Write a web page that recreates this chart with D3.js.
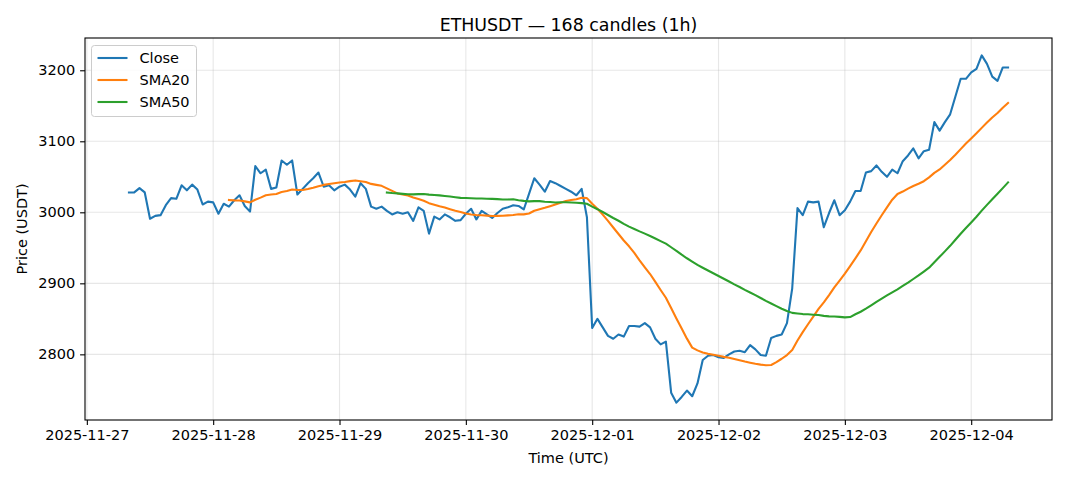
<!DOCTYPE html>
<html>
<head>
<meta charset="utf-8">
<script src="https://cdn.jsdelivr.net/npm/d3@7"></script>
<style>
  body { margin: 0; background: #fff; }
  text { font-family: "DejaVu Sans", sans-serif; }
</style>
</head>
<body>
<div id="chart"></div>
<script>
// hourly candles, first one at this time (UTC)
const startTime = "2025-11-27T08:00:00Z";

const close = [
  3028, 3028, 3034, 3028, 2991, 2995, 2996, 3010, 3020, 3019,
  3038, 3031, 3039, 3032, 3011, 3015, 3014, 2998, 3012, 3008,
  3017, 3024, 3009, 3001, 3065, 3055, 3060, 3033, 3035, 3073,
  3067, 3073, 3025, 3033, 3041, 3048, 3056, 3036, 3038, 3031,
  3036, 3039, 3032, 3022, 3041, 3033, 3008, 3005, 3008, 3002,
  2997, 3000, 2998, 3000, 2988, 3007, 3002, 2970, 2994, 2990,
  2997, 2993, 2988, 2989, 2998, 3005, 2990, 3002, 2997, 2992,
  2999, 3005, 3007, 3010, 3009, 3004, 3026, 3048, 3039, 3029,
  3044, 3041, 3037, 3033, 3029, 3024, 3033, 2993, 2837, 2850,
  2838, 2826, 2822, 2828, 2825, 2840, 2840, 2839, 2844, 2838,
  2822, 2814, 2818, 2746, 2732, 2740, 2749, 2741, 2759, 2792,
  2798, 2799, 2796, 2795, 2800, 2804, 2805, 2803, 2813, 2807,
  2799, 2798, 2823, 2826, 2828, 2844, 2893, 3006, 2996, 3015,
  3014, 3015, 2979, 2999, 3017, 2996, 3003, 3015, 3030, 3030,
  3056, 3058, 3066, 3057, 3050, 3060, 3055, 3072, 3080, 3090,
  3076, 3086, 3088, 3127, 3115, 3127, 3138, 3163, 3188, 3188,
  3197, 3202, 3221, 3209, 3191, 3185, 3204, 3204
];

// SMA20 begins at candle 19
const sma20Start = 19;
const sma20 = [
  3017.4, 3016.8, 3016.6, 3015.4, 3014.0, 3017.7, 3020.7, 3023.9, 3025.1, 3025.8,
  3028.5, 3029.9, 3032.1, 3031.4, 3031.4, 3032.9, 3034.6, 3036.7, 3038.6, 3039.9,
  3041.0, 3042.0, 3042.7, 3043.9, 3044.9, 3043.7, 3042.6, 3040.0, 3038.6, 3037.3,
  3033.7, 3030.2, 3026.6, 3025.2, 3023.6, 3020.9, 3018.9, 3016.2, 3012.9, 3010.7,
  3008.6, 3006.7, 3004.4, 3002.2, 3000.5, 2998.4, 2997.0, 2996.1, 2995.9, 2995.4,
  2994.9, 2995.0, 2995.2, 2995.7, 2996.2, 2997.2, 2997.1, 2998.3, 3002.2, 3004.4,
  3006.4, 3008.7, 3011.1, 3013.6, 3015.8, 3017.3, 3018.3, 3020.4, 3020.0, 3012.0,
  3004.9, 2996.8, 2987.9, 2978.6, 2969.5, 2960.3, 2952.1, 2942.8, 2932.4, 2922.6,
  2913.1, 2902.0, 2890.6, 2879.7, 2865.3, 2850.5, 2836.3, 2822.1, 2809.5, 2805.6,
  2802.7, 2800.7, 2799.3, 2798.0, 2796.4, 2795.1, 2793.3, 2791.6, 2789.8, 2788.2,
  2786.7, 2785.5, 2784.7, 2785.0, 2789.0, 2793.8, 2799.0, 2806.2, 2819.4, 2831.3,
  2842.4, 2853.2, 2864.0, 2873.2, 2883.4, 2894.2, 2903.8, 2913.7, 2924.3, 2935.2,
  2946.3, 2959.2, 2972.2, 2984.3, 2995.9, 3007.0, 3017.8, 3025.9, 3029.2, 3033.4,
  3037.1, 3040.2, 3043.8, 3049.2, 3055.5, 3060.4, 3067.0, 3073.7, 3081.1, 3089.0,
  3096.9, 3104.0, 3111.2, 3118.9, 3126.5, 3133.6, 3139.8, 3147.3, 3153.9
];

// SMA50 begins at candle 49
const sma50Start = 49;
const sma50 = [
  3027.9, 3027.2, 3026.7, 3026.0, 3025.4, 3025.3, 3025.6, 3025.7, 3024.9, 3024.4,
  3023.8, 3023.0, 3022.2, 3021.2, 3020.3, 3020.1, 3019.9, 3019.4, 3019.5, 3019.2,
  3018.9, 3018.5, 3018.1, 3018.1, 3018.3, 3017.1, 3016.1, 3015.4, 3015.7, 3015.8,
  3014.9, 3014.5, 3013.8, 3014.1, 3014.1, 3013.8, 3013.4, 3012.9, 3012.0, 3008.0,
  3004.4, 3000.4, 2996.2, 2992.0, 2988.1, 2983.8, 2979.9, 2976.6, 2973.2, 2970.0,
  2966.7, 2963.2, 2959.5, 2955.9, 2950.8, 2945.7, 2940.3, 2935.3, 2930.7, 2926.0,
  2922.0, 2918.0, 2914.2, 2910.3, 2906.4, 2902.5, 2898.5, 2894.8, 2890.8, 2887.1,
  2883.4, 2879.4, 2875.3, 2871.6, 2867.9, 2864.3, 2861.1, 2858.4, 2857.6, 2856.7,
  2856.4, 2855.8, 2855.3, 2854.2, 2853.5, 2853.2, 2852.7, 2852.1, 2852.5, 2856.4,
  2860.0, 2864.3, 2869.0, 2873.9, 2878.4, 2882.9, 2887.3, 2891.6, 2896.3, 2901.0,
  2906.1, 2911.1, 2916.6, 2922.0, 2929.6, 2937.3, 2945.0, 2952.8, 2961.3, 2969.8,
  2977.8, 2985.7, 2993.8, 3002.3, 3010.5, 3018.4, 3026.1, 3034.1, 3042.1
];

const xTickLabels = ["2025-11-27", "2025-11-28", "2025-11-29", "2025-11-30",
                     "2025-12-01", "2025-12-02", "2025-12-03", "2025-12-04"];
const yTickValues = [2800, 2900, 3000, 3100, 3200];

const seriesNames = ["Close", "SMA20", "SMA50"];
const seriesColors = ["#1f77b4", "#ff7f0e", "#2ca02c"];

const width = 1068, height = 481;
const margin = {top: 38, right: 16, bottom: 61, left: 85};
const fontSize = "14.5px";

const t0 = new Date(startTime);
const timeAt = i => d3.utcHour.offset(t0, i);

const closePts = close.map((v, i) => ({t: timeAt(i), v: v}));
const sma20Pts = sma20.map((v, i) => ({t: timeAt(i + sma20Start), v: v}));
const sma50Pts = sma50.map((v, i) => ({t: timeAt(i + sma50Start), v: v}));

const svg = d3.select("#chart").append("svg")
    .attr("width", width)
    .attr("height", height);

// matplotlib style 5% margins
const tFirst = closePts[0].t, tLast = closePts[closePts.length - 1].t;
const tPad = (tLast - tFirst) * 0.05;
const x = d3.scaleUtc()
    .domain([new Date(+tFirst - tPad), new Date(+tLast + tPad)])
    .range([margin.left, width - margin.right]);

const [vMin, vMax] = d3.extent(close);
const vPad = (vMax - vMin) * 0.05;
const y = d3.scaleLinear()
    .domain([vMin - vPad, vMax + vPad])
    .range([height - margin.bottom, margin.top]);

const xTicks = xTickLabels.map(s => new Date(s + "T00:00:00Z"));

// grid
const grid = svg.append("g").attr("stroke", "#b0b0b0").attr("stroke-opacity", 0.3).attr("stroke-width", 1.1);
grid.selectAll(".gx").data(xTicks).enter().append("line")
    .attr("x1", d => x(d)).attr("x2", d => x(d))
    .attr("y1", margin.top).attr("y2", height - margin.bottom);
grid.selectAll(".gy").data(yTickValues).enter().append("line")
    .attr("x1", margin.left).attr("x2", width - margin.right)
    .attr("y1", d => y(d)).attr("y2", d => y(d));

// lines
const line = d3.line().x(d => x(d.t)).y(d => y(d.v));
[closePts, sma20Pts, sma50Pts].forEach((pts, k) => {
  svg.append("path")
      .datum(pts)
      .attr("fill", "none")
      .attr("stroke", seriesColors[k])
      .attr("stroke-width", 2.1)
      .attr("stroke-linejoin", "round")
      .attr("stroke-linecap", "square")
      .attr("d", line);
});

// axes
const xAxis = d3.axisBottom(x)
    .tickValues(xTicks)
    .tickFormat((d, i) => xTickLabels[i])
    .tickSize(4.9).tickPadding(4.9);
const yAxis = d3.axisLeft(y)
    .tickValues(yTickValues)
    .tickFormat(d3.format("d"))
    .tickSize(4.9).tickPadding(4.9);

const gx = svg.append("g")
    .attr("transform", "translate(0," + (height - margin.bottom) + ")")
    .call(xAxis);
const gy = svg.append("g")
    .attr("transform", "translate(" + margin.left + ",0)")
    .call(yAxis);
[gx, gy].forEach(g => {
  g.select(".domain").remove();
  g.selectAll("line").attr("stroke", "#000").attr("stroke-width", 1.1);
  g.selectAll("text").attr("fill", "#000").attr("font-size", fontSize)
      .attr("font-family", "DejaVu Sans, sans-serif");
});

// frame
svg.append("rect")
    .attr("x", margin.left).attr("y", margin.top)
    .attr("width", width - margin.left - margin.right)
    .attr("height", height - margin.top - margin.bottom)
    .attr("fill", "none").attr("stroke", "#000").attr("stroke-width", 1.1);

// title and labels
svg.append("text")
    .attr("x", (margin.left + width - margin.right) / 2).attr("y", 31)
    .attr("text-anchor", "middle").attr("font-size", "17.4px")
    .text("ETHUSDT — 168 candles (1h)");
svg.append("text")
    .attr("x", (margin.left + width - margin.right) / 2).attr("y", 463)
    .attr("text-anchor", "middle").attr("font-size", fontSize)
    .text("Time (UTC)");
svg.append("text")
    .attr("transform", "translate(27," + ((margin.top + height - margin.bottom) / 2) + ") rotate(-90)")
    .attr("text-anchor", "middle").attr("font-size", fontSize)
    .text("Price (USDT)");

// legend
const lg = svg.append("g").attr("transform", "translate(91.5,45.5)");
lg.append("rect")
    .attr("width", 105).attr("height", 71).attr("rx", 3)
    .attr("fill", "#fff").attr("fill-opacity", 0.8)
    .attr("stroke", "#cccccc").attr("stroke-width", 1);
seriesNames.forEach((name, k) => {
  const ly = 12.5 + k * 22;
  lg.append("line")
      .attr("x1", 6).attr("x2", 36).attr("y1", ly).attr("y2", ly)
      .attr("stroke", seriesColors[k]).attr("stroke-width", 2.1);
  lg.append("text")
      .attr("x", 48).attr("y", ly + 5)
      .attr("font-size", fontSize)
      .text(name);
});
</script>
</body>
</html>
